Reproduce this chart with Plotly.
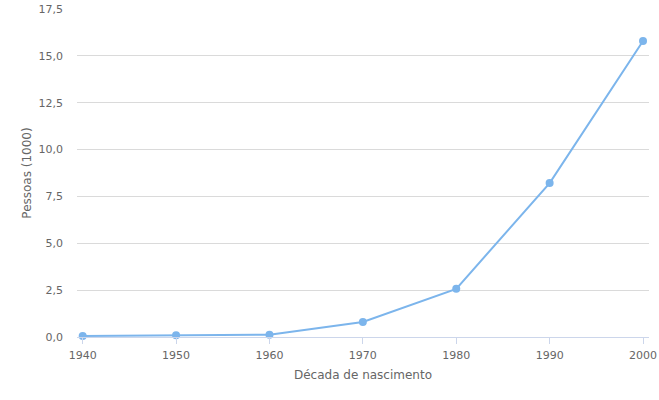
import plotly.graph_objects as go

decades = [1940, 1950, 1960, 1970, 1980, 1990, 2000]
pessoas = [0.06, 0.09, 0.12, 0.80, 2.57, 8.21, 15.79]
y_ticks = [0, 2.5, 5, 7.5, 10, 12.5, 15, 17.5]

font_family = "DejaVu Sans, Verdana, sans-serif"

fig = go.Figure(
    go.Scatter(
        x=decades,
        y=pessoas,
        mode="lines+markers",
        line=dict(color="#7cb5ec", width=2),
        marker=dict(color="#7cb5ec", size=8),
        hoverinfo="x+y",
        cliponaxis=False,
    )
)

fig.update_layout(
    width=659,
    height=400,
    margin=dict(l=77, r=10, t=9, b=63, autoexpand=False),
    paper_bgcolor="white",
    plot_bgcolor="white",
    separators=",.",
    showlegend=False,
    font=dict(family=font_family, size=11, color="#666666"),
)

fig.update_xaxes(
    range=[1939.39, 2000.64],
    tickvals=decades,
    ticktext=[str(d) for d in decades],
    showgrid=False,
    showline=True,
    linecolor="#ccd6eb",
    linewidth=1,
    ticks="outside",
    ticklen=6,
    tickcolor="#ccd6eb",
    tickfont=dict(size=11, color="#666666"),
    ticklabelstandoff=2,
    ticklabeloverflow="allow",
    automargin=False,
    zeroline=False,
    title=dict(text="Década de nascimento", font=dict(size=12, color="#666666"), standoff=9),
)

fig.update_yaxes(
    range=[0, 17.5],
    tickvals=y_ticks,
    tickformat=".1f",
    showgrid=True,
    gridcolor="#dadada",
    gridwidth=1,
    zeroline=False,
    showline=False,
    ticks="",
    ticklabelstandoff=13,
    automargin=False,
    tickfont=dict(size=11, color="#666666"),
    title=dict(text="Pessoas (1000)", font=dict(size=12, color="#666666"), standoff=4),
)

fig.write_html(
    "out.html",
    config={"displayModeBar": False},
    post_script="document.body.style.margin='0';document.body.style.overflow='hidden';",
)
